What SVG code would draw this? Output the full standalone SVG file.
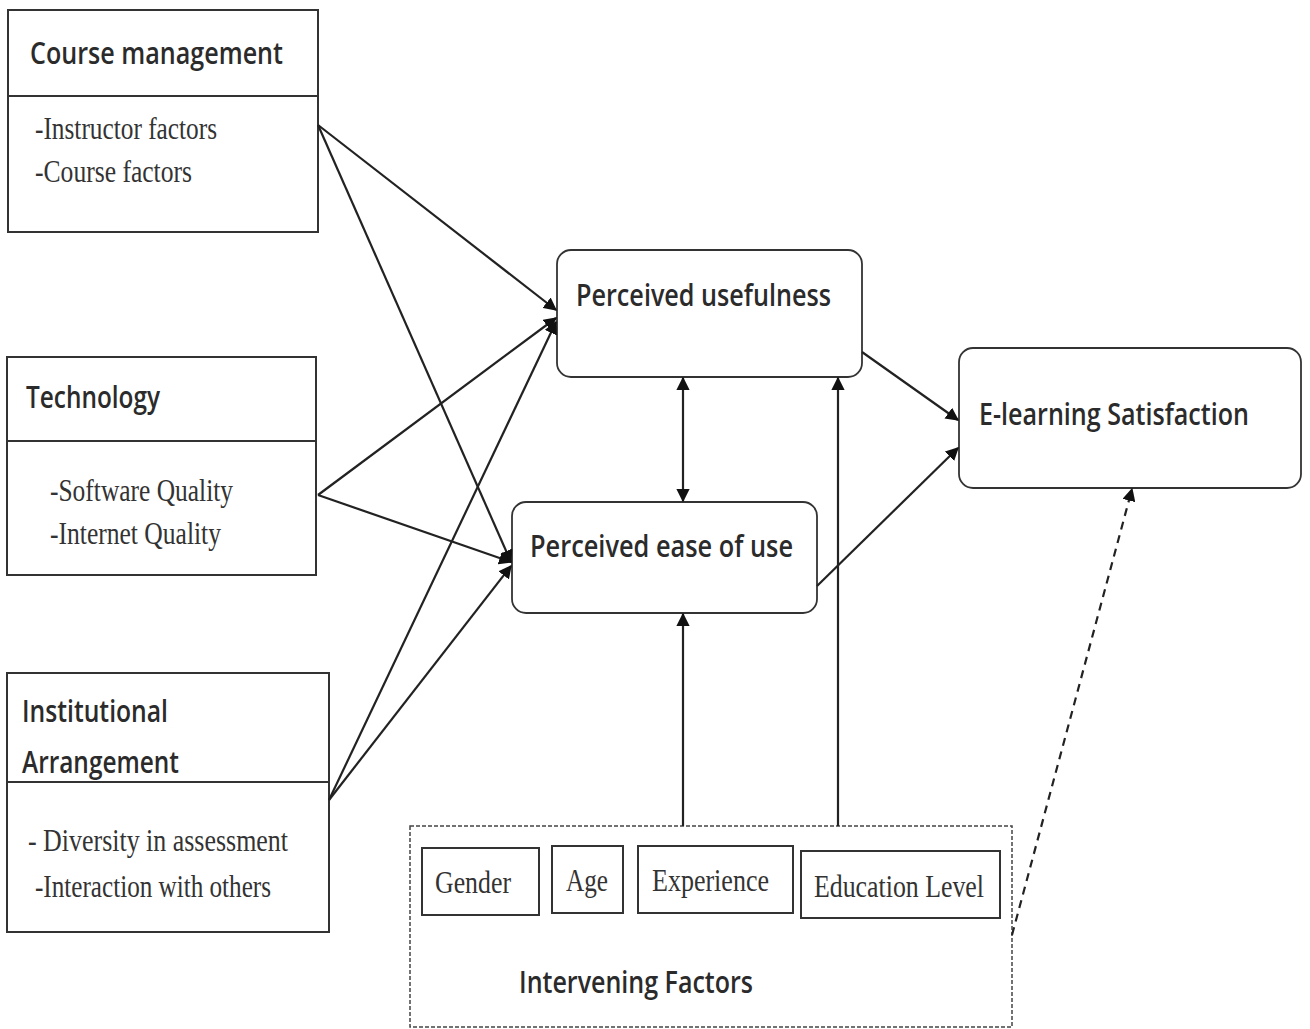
<svg xmlns="http://www.w3.org/2000/svg" width="1310" height="1029" viewBox="0 0 1310 1029">
<style>
.box{fill:#fff;stroke:#333;stroke-width:2}
.rbox{fill:#fff;stroke:#333;stroke-width:1.8}
.h{font-family:"Open Sans","Liberation Sans",sans-serif;font-size:31px;font-weight:600;fill:#2b2b2b}
.b{font-family:"Liberation Serif",serif;font-size:32px;fill:#333}
.c{fill:none;stroke:#222;stroke-width:2.2}
.d{fill:none;stroke:#222;stroke-width:2.2;stroke-dasharray:8 6}
</style>
<defs>
<marker id="ah" viewBox="0 0 10 10" refX="9" refY="5" markerWidth="6" markerHeight="6" orient="auto-start-reverse" markerUnits="strokeWidth">
<path d="M0,0 L10,5 L0,10 z" fill="#111"/>
</marker>
</defs>
<rect width="1310" height="1029" fill="#fff"/>
<g id="course-management">
<rect class="box" x="8" y="10" width="310" height="222"/>
<line class="box" x1="8" y1="96" x2="318" y2="96"/>
<text class="h" x="30" y="64" textLength="253" lengthAdjust="spacingAndGlyphs">Course management</text>
<text class="b" x="35" y="139" textLength="182" lengthAdjust="spacingAndGlyphs">-Instructor factors</text>
<text class="b" x="35" y="182" textLength="157" lengthAdjust="spacingAndGlyphs">-Course factors</text>
</g>
<g id="technology">
<rect class="box" x="7" y="357" width="309" height="218"/>
<line class="box" x1="7" y1="441" x2="316" y2="441"/>
<text class="h" x="26" y="408" textLength="134" lengthAdjust="spacingAndGlyphs">Technology</text>
<text class="b" x="50" y="501" textLength="183" lengthAdjust="spacingAndGlyphs">-Software Quality</text>
<text class="b" x="50" y="544" textLength="171" lengthAdjust="spacingAndGlyphs">-Internet Quality</text>
</g>
<g id="institutional-arrangement">
<rect class="box" x="7" y="673" width="322" height="259"/>
<line class="box" x1="7" y1="782" x2="329" y2="782"/>
<text class="h" x="22" y="722" textLength="146" lengthAdjust="spacingAndGlyphs">Institutional</text>
<text class="h" x="22" y="773" textLength="157" lengthAdjust="spacingAndGlyphs">Arrangement</text>
<text class="b" x="28" y="851" textLength="260" lengthAdjust="spacingAndGlyphs">- Diversity in assessment</text>
<text class="b" x="35" y="897" textLength="236" lengthAdjust="spacingAndGlyphs">-Interaction with others</text>
</g>
<g id="perceived-usefulness">
<rect class="rbox" x="557" y="250" width="305" height="127" rx="14"/>
<text class="h" x="576" y="306" textLength="255" lengthAdjust="spacingAndGlyphs">Perceived usefulness</text>
</g>
<g id="perceived-ease-of-use">
<rect class="rbox" x="512" y="502" width="305" height="111" rx="14"/>
<text class="h" x="530" y="557" textLength="263" lengthAdjust="spacingAndGlyphs">Perceived ease of use</text>
</g>
<g id="e-learning-satisfaction">
<rect class="rbox" x="959" y="348" width="342" height="140" rx="14"/>
<text class="h" x="979" y="425" textLength="270" lengthAdjust="spacingAndGlyphs">E-learning Satisfaction</text>
</g>
<g id="intervening-factors">
<rect x="410" y="826" width="602" height="201" fill="#fff" stroke="#444" stroke-width="1.5" stroke-dasharray="4 2"/>
<rect class="box" x="422" y="848" width="117" height="67"/>
<text class="b" x="435" y="893" textLength="76" lengthAdjust="spacingAndGlyphs">Gender</text>
<rect class="box" x="552" y="846" width="71" height="67"/>
<text class="b" x="566" y="891" textLength="42" lengthAdjust="spacingAndGlyphs">Age</text>
<rect class="box" x="638" y="846" width="155" height="67"/>
<text class="b" x="652" y="891" textLength="117" lengthAdjust="spacingAndGlyphs">Experience</text>
<rect class="box" x="801" y="851" width="199" height="67" stroke="#555"/>
<text class="b" x="814" y="897" textLength="170" lengthAdjust="spacingAndGlyphs">Education Level</text>
<text class="h" x="519" y="993" textLength="234" lengthAdjust="spacingAndGlyphs">Intervening Factors</text>
</g>
<g id="connectors">
<line class="c" x1="318" y1="125" x2="556" y2="310" marker-end="url(#ah)"/>
<line class="c" x1="318" y1="125" x2="511" y2="562" marker-end="url(#ah)"/>
<line class="c" x1="318" y1="495" x2="556" y2="318" marker-end="url(#ah)"/>
<line class="c" x1="318" y1="495" x2="511" y2="562" marker-end="url(#ah)"/>
<line class="c" x1="329" y1="800" x2="556" y2="322" marker-end="url(#ah)"/>
<line class="c" x1="329" y1="800" x2="511" y2="566" marker-end="url(#ah)"/>
<line class="c" x1="683" y1="378" x2="683" y2="501" marker-start="url(#ah)" marker-end="url(#ah)"/>
<line class="c" x1="862" y1="352" x2="958" y2="420" marker-end="url(#ah)"/>
<line class="c" x1="817" y1="586" x2="958" y2="448" marker-end="url(#ah)"/>
<line class="c" x1="683" y1="826" x2="683" y2="614" marker-end="url(#ah)"/>
<line class="c" x1="838" y1="826" x2="838" y2="378" marker-end="url(#ah)"/>
<line class="d" x1="1012" y1="935" x2="1132" y2="489" marker-end="url(#ah)"/>
</g>
</svg>
